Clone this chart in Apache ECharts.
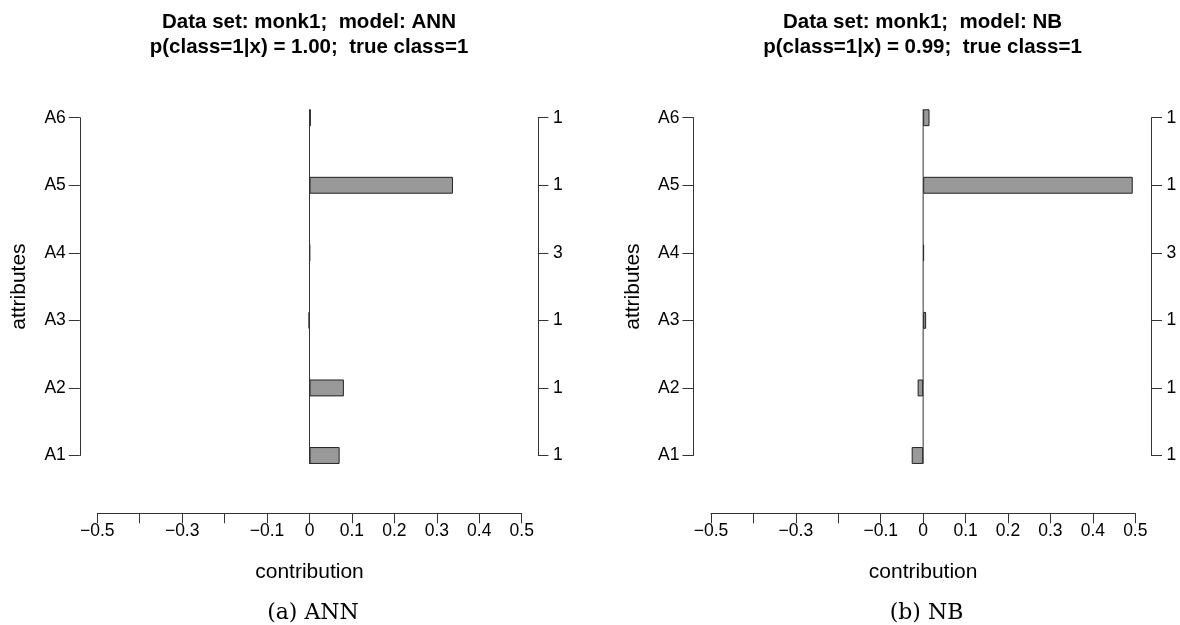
<!DOCTYPE html>
<html><head><meta charset="utf-8">
<script src="https://cdn.jsdelivr.net/npm/echarts@6/dist/echarts.min.js"></script>
<style>html,body{margin:0;padding:0;background:#fff}#c{width:1180px;height:625px}</style>
</head><body><div id="c"></div>
<script>
// ---- data ----
const attributes = ['A1', 'A2', 'A3', 'A4', 'A5', 'A6'];
const attrValues = ['1', '1', '1', '3', '1', '1'];
const annContrib = [0.071, 0.081, -0.002, 0.001, 0.338, 0.003];
const nbContrib = [-0.027, -0.013, 0.007, 0.002, 0.494, 0.015];
const xTickLabels = ['\u22120.5', '', '\u22120.3', '', '\u22120.1', '0', '0.1', '0.2', '0.3', '0.4', '0.5'];
const panelTitles = [
  'Data set: monk1;  model: ANN\np(class=1|x) = 1.00;  true class=1',
  'Data set: monk1;  model: NB\np(class=1|x) = 0.99;  true class=1'
];
const captions = ['(a) ANN', '(b) NB'];

// ---- layout ----
const FONT = '"Liberation Sans", Arial, Helvetica, sans-serif';
const AX = '#333';
const panels = [
  { values: annContrib, left: 97.3, right: 1180 - 521.7, center: 309, capX: 313 },
  { values: nbContrib, left: 711, right: 1180 - 1135.3, center: 922.5, capX: 926.5 }
];
const gridTop = 117.7, gridBottom = 625 - 455.5;

const option = {
  backgroundColor: '#fff',
  animation: false,
  title: [], grid: [], xAxis: [], yAxis: [], series: [], graphic: []
};

panels.forEach((p, i) => {
  option.title.push({
    text: panelTitles[i], left: p.center, top: 10, textAlign: 'center', padding: 0,
    textStyle: { fontFamily: FONT, fontSize: 20.5, fontWeight: 'bold', lineHeight: 25, color: '#000' }
  });
  option.grid.push({ left: p.left, right: p.right, top: gridTop, bottom: gridBottom, containLabel: false, outerBoundsMode: 'none' });
  option.xAxis.push({
    type: 'value', gridIndex: i, min: -0.5, max: 0.5, interval: 0.1, offset: 57.8,
    name: 'contribution', nameLocation: 'middle', nameGap: 48,
    nameTextStyle: { fontFamily: FONT, fontSize: 21, color: '#000' },
    axisLine: { show: true, onZero: false, lineStyle: { color: AX, width: 1 } },
    axisTick: { show: true, length: 10, lineStyle: { color: AX } },
    splitLine: { show: false },
    axisLabel: {
      fontFamily: FONT, fontSize: 17.5, color: '#000', margin: 9,
      showMinLabel: true, showMaxLabel: true,
      formatter: v => xTickLabels[Math.round((v + 0.5) * 10)]
    }
  });
  option.yAxis.push({
    type: 'category', gridIndex: i, data: attributes, boundaryGap: false, position: 'left', offset: 17.5,
    name: 'attributes', nameLocation: 'middle', nameRotate: 90, nameGap: 50,
    nameTextStyle: { fontFamily: FONT, fontSize: 21, color: '#000' },
    axisLine: { show: true, onZero: false, lineStyle: { color: AX, width: 1 } },
    axisTick: { show: true, length: 11, lineStyle: { color: AX } },
    splitLine: { show: false },
    axisLabel: { fontFamily: FONT, fontSize: 17.5, color: '#000', margin: 14, interval: 0 }
  });
  option.yAxis.push({
    type: 'category', gridIndex: i, data: attributes, boundaryGap: false, position: 'right', offset: 16.2,
    axisLine: { show: true, onZero: false, lineStyle: { color: AX, width: 1 } },
    axisTick: { show: true, length: 10.5, lineStyle: { color: AX } },
    splitLine: { show: false },
    axisLabel: { fontFamily: FONT, fontSize: 17.5, color: '#000', margin: 15, interval: 0,
      formatter: (v, idx) => attrValues[idx] }
  });
  option.series.push({
    type: 'bar', xAxisIndex: i, yAxisIndex: i * 2, data: p.values, barWidth: '25%', clip: false,
    itemStyle: { color: '#999999', borderColor: '#222', borderWidth: 1 }, z: 2
  });
  option.series.push({
    type: 'custom', xAxisIndex: i, yAxisIndex: i * 2, data: [[0, 0]], z: 3,
    renderItem: (params, api) => {
      const top = api.coord([0, attributes.length - 1]);
      const bot = api.coord([0, 0]);
      const h = api.size([0, 1])[1] * 0.25 / 2;
      return { type: 'line', shape: { x1: top[0], y1: top[1] - h, x2: bot[0], y2: bot[1] + h },
        style: { stroke: AX, lineWidth: 1 } };
    }
  });
  option.graphic.push({
    type: 'text', x: p.capX, y: 613.5,
    style: { text: captions[i], font: '22px "DejaVu Serif", "Liberation Serif", serif', fill: '#000', align: 'center', verticalAlign: 'middle' }
  });
});

const chart = echarts.init(document.getElementById('c'), null, { renderer: 'canvas' });
chart.setOption(option);
</script>
</body></html>
